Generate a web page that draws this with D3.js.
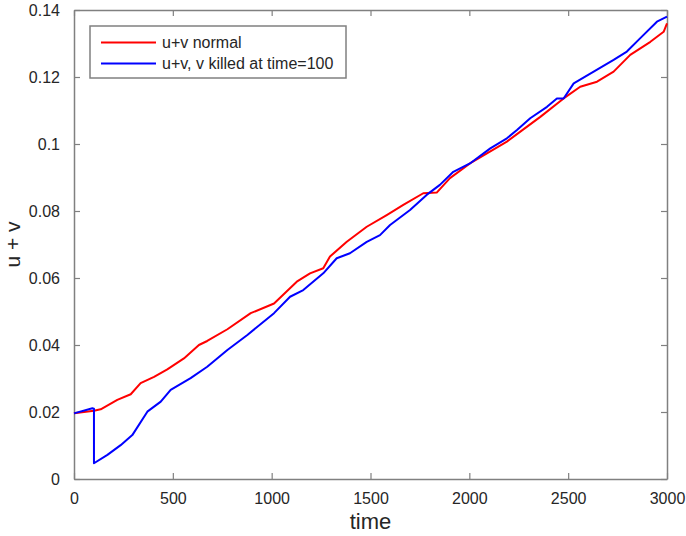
<!DOCTYPE html>
<html>
<head>
<meta charset="utf-8">
<script src="https://cdn.jsdelivr.net/npm/d3@7"></script>
<style>
  body { margin: 0; background: #fff; }
  text { font-family: "Liberation Sans", Arial, sans-serif; }
</style>
</head>
<body>
<script>
// values
var normal_t = [0, 101, 135, 219, 287, 337, 405, 472, 556, 632, 674, 776, 894, 1012,
                1127, 1194, 1261, 1295, 1380, 1481, 1582, 1666, 1767, 1835, 1902, 2003,
                2089, 2190, 2258, 2359, 2477, 2561, 2646, 2730, 2814, 2916, 2983, 3000];
var normal_v = [0.0196, 0.0204, 0.0208, 0.0236, 0.0253, 0.0286, 0.0305, 0.0327, 0.0360, 0.0400, 0.0412, 0.0447, 0.0495, 0.0524,
                0.0589, 0.0614, 0.0629, 0.0664, 0.0708, 0.0753, 0.0788, 0.0818, 0.0853, 0.0855, 0.0898, 0.0942,
                0.0972, 0.1007, 0.1037, 0.1081, 0.1136, 0.1171, 0.1186, 0.1216, 0.1266, 0.1305, 0.1335, 0.1360];

var killed_t = [0, 93, 101, 101, 169, 236, 295, 371, 439, 489, 590, 674, 776, 877, 1012,
                1093, 1160, 1261, 1329, 1396, 1481, 1548, 1599, 1700, 1784, 1851, 1919, 2003,
                2106, 2190, 2241, 2308, 2393, 2443, 2477, 2528, 2629, 2730, 2797, 2865, 2949, 3000];
var killed_v = [0.0196, 0.0211, 0.0210, 0.0047, 0.0072, 0.0101, 0.0131, 0.0201, 0.0231, 0.0266, 0.0301, 0.0335, 0.0385, 0.0430, 0.0495,
                0.0544, 0.0564, 0.0614, 0.0659, 0.0674, 0.0708, 0.0728, 0.0758, 0.0803, 0.0848, 0.0878, 0.0917, 0.0942,
                0.0987, 0.1017, 0.1042, 0.1077, 0.1111, 0.1136, 0.1136, 0.1181, 0.1216, 0.1251, 0.1276, 0.1316, 0.1365, 0.1380];

var x_ticks = [0, 500, 1000, 1500, 2000, 2500, 3000];
var y_ticks = [0, 0.02, 0.04, 0.06, 0.08, 0.1, 0.12, 0.14];
var legend_labels = ["u+v normal", "u+v, v killed at time=100"];
var series_colors = ["#ff0000", "#0000ff"];

var svg_width = 686, svg_height = 536;
var plot_left = 74, plot_right = 667, plot_top = 10, plot_bottom = 479;
var axis_color = "#808080", text_color = "#262626";
var tick_len = 6;

var svg = d3.select("body").append("svg")
  .attr("width", svg_width).attr("height", svg_height);

var x = d3.scaleLinear().domain([0, 3000]).range([plot_left, plot_right]);
var y = d3.scaleLinear().domain([0, 0.14]).range([plot_bottom, plot_top]);

function fmt_y(d) { return d === 0 ? "0" : d3.format("")(+d.toFixed(2)); }

// axes, ticks inward on all four sides
var gb = svg.append("g").attr("transform", "translate(0," + plot_bottom + ")")
  .call(d3.axisBottom(x).tickValues(x_ticks).tickSizeInner(-tick_len).tickSizeOuter(0).tickPadding(14).tickFormat(d3.format("d")));
var gt = svg.append("g").attr("transform", "translate(0," + plot_top + ")")
  .call(d3.axisTop(x).tickValues(x_ticks).tickSizeInner(-tick_len).tickSizeOuter(0).tickFormat(""));
var gl = svg.append("g").attr("transform", "translate(" + plot_left + ",0)")
  .call(d3.axisLeft(y).tickValues(y_ticks).tickSizeInner(-tick_len).tickSizeOuter(0).tickPadding(14).tickFormat(fmt_y));
var gr = svg.append("g").attr("transform", "translate(" + plot_right + ",0)")
  .call(d3.axisRight(y).tickValues(y_ticks).tickSizeInner(-tick_len).tickSizeOuter(0).tickFormat(""));

[gb, gt, gl, gr].forEach(function(g) {
  g.select(".domain").attr("stroke", axis_color).attr("stroke-width", 1.5);
  g.selectAll(".tick line").attr("stroke", axis_color).attr("stroke-width", 1.2);
  g.selectAll(".tick text").attr("fill", text_color).style("font-size", "16px");
});
gb.selectAll(".tick text").attr("dy", "0.71em");

// lines
var line = d3.line().x(function(d) { return x(d[0]); }).y(function(d) { return y(d[1]); });
var series = [d3.zip(normal_t, normal_v), d3.zip(killed_t, killed_v)];

svg.append("g").selectAll("path").data(series).enter().append("path")
  .attr("d", line)
  .attr("fill", "none")
  .attr("stroke", function(d, i) { return series_colors[i]; })
  .attr("stroke-width", 2)
  .attr("stroke-linejoin", "round");

// axis labels
svg.append("text")
  .attr("x", (plot_left + plot_right) / 2).attr("y", 529)
  .attr("text-anchor", "middle").attr("fill", text_color)
  .style("font-size", "22px").text("time");
svg.append("text")
  .attr("transform", "translate(20," + (plot_top + plot_bottom) / 2 + ") rotate(-90)")
  .attr("text-anchor", "middle").attr("fill", text_color)
  .style("font-size", "21px").text("u + v");

// legend
var legend = svg.append("g");
legend.append("rect")
  .attr("x", 90).attr("y", 26).attr("width", 256).attr("height", 52)
  .attr("fill", "#fff").attr("stroke", axis_color).attr("stroke-width", 1.5);
var items = legend.selectAll("g.item").data(legend_labels).enter().append("g")
  .attr("class", "item")
  .attr("transform", function(d, i) { return "translate(0," + (42.5 + i * 21) + ")"; });
items.append("line")
  .attr("x1", 101).attr("x2", 156)
  .attr("stroke", function(d, i) { return series_colors[i]; })
  .attr("stroke-width", 2);
items.append("text")
  .attr("x", 162).attr("dy", "0.35em")
  .attr("fill", text_color).style("font-size", "16px")
  .text(function(d) { return d; });
</script>
</body>
</html>
